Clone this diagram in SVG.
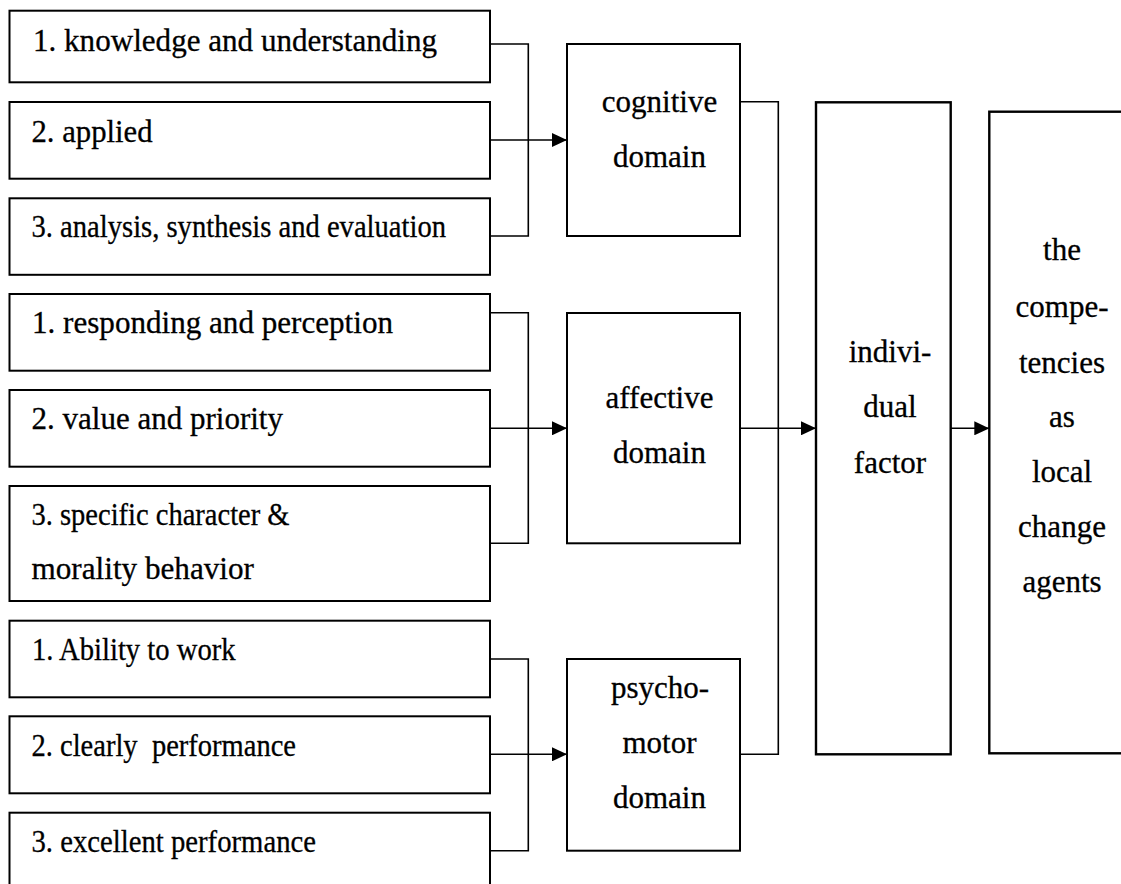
<svg xmlns="http://www.w3.org/2000/svg" width="1121" height="884" viewBox="0 0 1121 884">
  <style>
    .box { fill: #fff; stroke: #000; stroke-width: 2; }
    .wide { stroke-width: 2.4; }
    .lbl { font-family: 'Liberation Serif', 'Times New Roman', serif; font-size: 31px; fill: #000; stroke: #000; stroke-width: 0.3; white-space: pre; }
    .mid { text-anchor: middle; }
    .wire { fill: none; stroke: #000; stroke-width: 1.6; }
  </style>
  <defs>
    <marker id="arrow" markerUnits="userSpaceOnUse" markerWidth="15" markerHeight="14" refX="15" refY="7" orient="auto">
      <path d="M0,0 L15,7 L0,14 z" fill="#000"/>
    </marker>
  </defs>

  <rect x="0" y="0" width="1121" height="884" fill="#fff"/>

  <!-- cognitive items -->
  <g id="cog-1">
    <rect class="box" x="9.5" y="10.7" width="480.5" height="71.6"/>
    <text class="lbl" x="33" y="50.7" textLength="404" lengthAdjust="spacingAndGlyphs">1. knowledge and understanding</text>
  </g>
  <g id="cog-2">
    <rect class="box" x="9.5" y="102" width="480.5" height="76.7"/>
    <text class="lbl" x="31.5" y="141.7" textLength="121" lengthAdjust="spacingAndGlyphs">2. applied</text>
  </g>
  <g id="cog-3">
    <rect class="box" x="9.5" y="198.3" width="480.5" height="76.5"/>
    <text class="lbl" x="31.5" y="237.3" textLength="414.5" lengthAdjust="spacingAndGlyphs">3. analysis, synthesis and evaluation</text>
  </g>

  <!-- affective items -->
  <g id="aff-1">
    <rect class="box" x="9.5" y="294" width="480.5" height="76.7"/>
    <text class="lbl" x="32" y="333.3" textLength="361" lengthAdjust="spacingAndGlyphs">1. responding and perception</text>
  </g>
  <g id="aff-2">
    <rect class="box" x="9.5" y="390" width="480.5" height="76.7"/>
    <text class="lbl" x="31.5" y="429" textLength="251.5" lengthAdjust="spacingAndGlyphs">2. value and priority</text>
  </g>
  <g id="aff-3">
    <rect class="box" x="9.5" y="486" width="480.5" height="115"/>
    <text class="lbl" x="31.5" y="525" textLength="258" lengthAdjust="spacingAndGlyphs">3. specific character &amp;</text>
    <text class="lbl" x="31.5" y="579" textLength="222.5" lengthAdjust="spacingAndGlyphs">morality behavior</text>
  </g>

  <!-- psychomotor items -->
  <g id="psy-1">
    <rect class="box" x="9.5" y="620.7" width="480.5" height="76.6"/>
    <text class="lbl" x="32" y="660" textLength="203.6" lengthAdjust="spacingAndGlyphs">1. Ability to work</text>
  </g>
  <g id="psy-2">
    <rect class="box" x="9.5" y="716.3" width="480.5" height="77"/>
    <text class="lbl" x="31.5" y="755.7" textLength="264.5" lengthAdjust="spacingAndGlyphs">2. clearly  performance</text>
  </g>
  <g id="psy-3">
    <rect class="box" x="9.5" y="812.7" width="480.5" height="80"/>
    <text class="lbl" x="31.5" y="851.7" textLength="284.5" lengthAdjust="spacingAndGlyphs">3. excellent performance</text>
  </g>

  <!-- domains -->
  <g id="cognitive">
    <rect class="box" x="567" y="44" width="173" height="192"/>
    <text class="lbl mid" x="659.5" y="111.7">cognitive</text>
    <text class="lbl mid" x="659.5" y="167.3">domain</text>
  </g>
  <g id="affective">
    <rect class="box" x="567" y="313" width="173" height="230.3"/>
    <text class="lbl mid" x="659.5" y="408.3">affective</text>
    <text class="lbl mid" x="659.5" y="463.3">domain</text>
  </g>
  <g id="psychomotor">
    <rect class="box" x="567" y="659" width="173" height="191.7"/>
    <text class="lbl mid" x="660" y="698">psycho-</text>
    <text class="lbl mid" x="659.5" y="753.3">motor</text>
    <text class="lbl mid" x="659.5" y="808.3">domain</text>
  </g>

  <!-- individual factor -->
  <g id="individual">
    <rect class="box wide" x="816" y="102.3" width="134.7" height="652"/>
    <text class="lbl mid" x="890" y="361.7">indivi-</text>
    <text class="lbl mid" x="890" y="416.7">dual</text>
    <text class="lbl mid" x="890" y="473.3">factor</text>
  </g>

  <!-- outcome -->
  <g id="competencies">
    <rect class="box wide" x="989.3" y="111.7" width="140" height="641.6"/>
    <text class="lbl mid" x="1062" y="260">the</text>
    <text class="lbl mid" x="1062" y="316.7">compe-</text>
    <text class="lbl mid" x="1062" y="372.7">tencies</text>
    <text class="lbl mid" x="1062" y="426.7">as</text>
    <text class="lbl mid" x="1062" y="481.7">local</text>
    <text class="lbl mid" x="1062" y="536.7">change</text>
    <text class="lbl mid" x="1062" y="591.7">agents</text>
  </g>

  <!-- connectors -->
  <g id="connectors">
    <polyline class="wire" points="490,44 528.3,44 528.3,236 490,236"/>
    <line class="wire" x1="490" y1="140" x2="567" y2="140" marker-end="url(#arrow)"/>

    <polyline class="wire" points="490,312.7 528.3,312.7 528.3,543.3 490,543.3"/>
    <line class="wire" x1="490" y1="428.3" x2="567" y2="428.3" marker-end="url(#arrow)"/>

    <polyline class="wire" points="490,659 528.3,659 528.3,850.7 490,850.7"/>
    <line class="wire" x1="490" y1="754.3" x2="567" y2="754.3" marker-end="url(#arrow)"/>

    <polyline class="wire" points="740,101.7 778.3,101.7 778.3,754.3 740,754.3"/>
    <line class="wire" x1="740" y1="428.3" x2="816" y2="428.3" marker-end="url(#arrow)"/>

    <line class="wire" x1="950.7" y1="428.3" x2="989.3" y2="428.3" marker-end="url(#arrow)"/>
  </g>
</svg>
